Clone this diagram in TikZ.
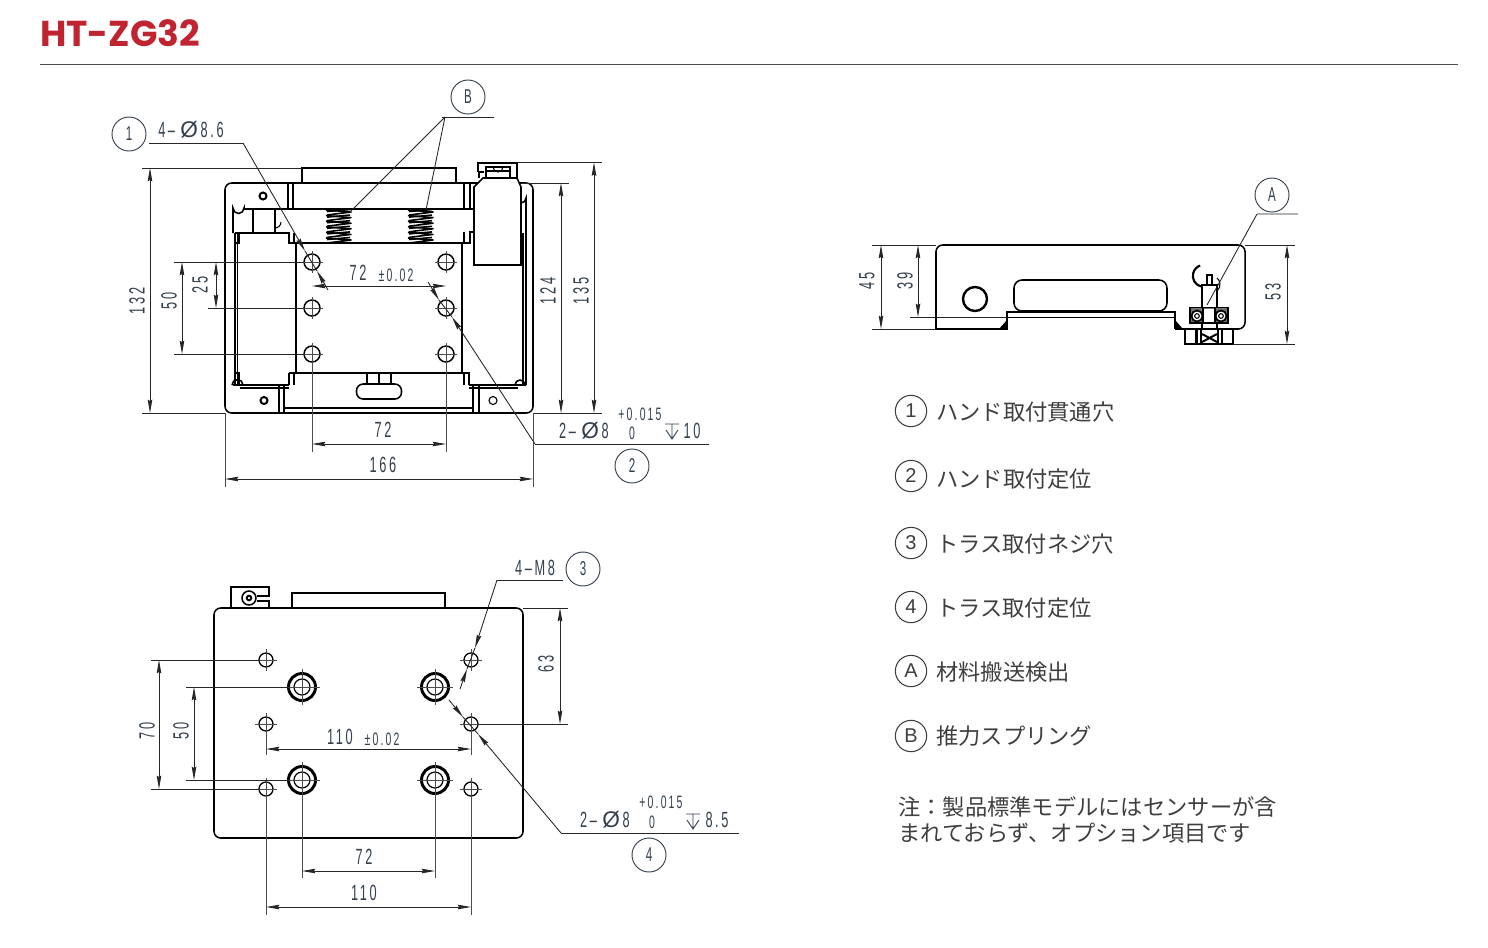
\documentclass[tikz,border=0pt]{standalone}
\usepackage{fontspec}
\usetikzlibrary{arrows.meta}
\setmainfont{Liberation Sans}
\newfontfamily\dimfont[FakeStretch=0.58,LetterSpace=12]{Liberation Sans}
\newfontfamily\jpfont{Noto Sans CJK JP}
\newfontfamily\titlefont{Poppins Bold}
\definecolor{dimcol}{HTML}{34404C}
\definecolor{jpcol}{HTML}{3F3F3F}
\definecolor{titlered}{HTML}{BF2430}
\newcounter{dn}
\tikzset{
  obj/.style={black,line width=1.15pt},
  objthin/.style={black,line width=0.8pt},
  thin line/.style={black!85,line width=0.65pt},
  centre/.style={black!70,line width=0.55pt},
  bigtip/.tip={Stealth[length=10pt,width=3.4pt,inset=1pt]},
  dimline/.style={black!85,line width=0.65pt,{bigtip}-{bigtip}},
  leader/.style={black!85,line width=0.65pt},
  tipend/.style={black!85,line width=0.65pt,-{bigtip}},
  dimtext/.style={dimcol,inner sep=0pt,font=\dimfont\fontsize{16.5pt}{16.5pt}\selectfont},
  dimsmall/.style={dimcol,inner sep=0pt,font=\dimfont\fontsize{13.5pt}{13.5pt}\selectfont},
  balloon/.style={circle,draw=black,line width=0.7pt,minimum size=25.5pt,inner sep=0pt,dimcol,font=\dimfont\fontsize{15pt}{15pt}\selectfont},
  keyball/.style={circle,draw=black!85,line width=0.8pt,minimum size=23.5pt,inner sep=0pt,jpcol,font=\fontsize{15pt}{15pt}\selectfont},
  jptext/.style={anchor=west,inner sep=0pt,jpcol,font=\jpfont\fontsize{16.7pt}{16.7pt}\selectfont},
}
\newcommand{\phig}{\hspace{4pt}{\normalfont\fontsize{17pt}{17pt}\selectfont Ø}\hspace{2pt}}
\newcommand{\dt}[3][0]{\stepcounter{dn}\node[dimtext,rotate=#1] (d\thedn) at (#2) {#3};}
\newcommand{\ds}[2]{\stepcounter{dn}\node[dimsmall] (d\thedn) at (#1) {#2};}
\newcommand{\bighole}[2]{%
  \draw[line width=1.1pt,black,fill=white] (#1,#2) circle[radius=8];
  \draw[centre] (#1-11,#2)--(#1+11,#2) (#1,#2-11)--(#1,#2+11);}
\newcommand{\smallhole}[2]{%
  \draw[line width=1pt,black,fill=white] (#1,#2) circle[radius=7];
  \draw[centre] (#1-11,#2)--(#1+11,#2) (#1,#2-11)--(#1,#2+11);}
\newcommand{\cbore}[2]{%
  \draw[line width=2.2pt,black,fill=white] (#1,#2) circle[radius=13.5];
  \draw[line width=0.9pt,black] (#1,#2) circle[radius=8];
  \draw[centre] (#1-18,#2)--(#1+18,#2) (#1,#2-18)--(#1,#2+18);}
\newcommand{\springat}[1]{%
  \foreach \k in {0,...,5}{
    \draw[black,line width=1.2pt,line join=round]
      (#1,210+\k*5.6)--(#1+25,212+\k*5.6)--(#1+1,215+\k*5.6);
    \draw[black,line width=1.2pt,line join=round]
      (#1+1,211.5+\k*5.6)--(#1+24,209.5+\k*5.6);
  }}
\newcommand{\depth}[2]{%
  \draw[dimcol,line width=0.7pt] (#1-7,#2-7)--(#1+7,#2-7) (#1-6,#2-1)--(#1,#2+8)--(#1+6,#2-1) (#1,#2-7)--(#1,#2+8);}
\begin{document}
\begin{tikzpicture}[x=0.75pt,y=-0.75pt]
\useasboundingbox (0,0) rectangle (1488,947);
\fill[white] (0,0) rectangle (1488,947);
% title
\node[anchor=west,inner sep=0pt,titlered,font=\titlefont\fontsize{27pt}{27pt}\selectfont] (title) at (40,33) {HT-ZG32};
\draw[black!70,line width=0.7pt] (40,64)--(1458,64);

%%%%%% TOP VIEW
\draw[obj,rounded corners=5pt] (225,413)--(225,183)--(533,183)--(533,413)--cycle;
\draw[obj] (302,183)--(302,168)--(456,168)--(456,183);
\draw[obj] (288,183)--(288,209) (293,183)--(293,209) (464,183)--(464,209) (470,183)--(470,209);
% arch and upper crossbar
\draw[obj] (233,233)--(233,208) arc[start angle=180,end angle=0,radius=5.5] -- (244,209)--(474,209);
\draw[obj] (253,209)--(253,233) (275,209)--(275,233);
\draw[objthin] (275,228) arc[start angle=90,end angle=0,radius=6];
\draw[obj] (235,233)--(289,233)--(289,243)--(470,243)--(470,232)--(474,232);
\draw[obj] (294,233)--(294,243) (464,232)--(464,243);
\draw[obj] (296,243)--(296,373) (462,243)--(462,373);
\draw[line width=1.9pt,black] (235,233)--(235,385);
\draw[objthin] (237.5,233)--(237.5,385);
\draw[objthin] (235,243)--(239,243)--(239,233);
\draw[objthin] (235,373)--(239,373)--(239,385);
\draw[obj] (289,373)--(470,373) (289,373)--(289,385) (294,373)--(294,385) (464,373)--(464,385) (469,373)--(469,385);
\draw[obj] (233,385)--(289,385) (469,385)--(526,385);
\draw[objthin] (240,388)--(289,388) (469,388)--(518,388);
\draw[obj] (232,385) arc[start angle=180,end angle=360,radius=5.5];
\draw[obj] (515,385) arc[start angle=180,end angle=360,radius=5];
\draw[obj] (279,385)--(279,413) (284,385)--(284,413) (473,385)--(473,413) (479,385)--(479,413);
\draw[objthin] (284,408)--(473,408);
\draw[obj] (367,373)--(367,384) (379,373)--(379,384) (391,373)--(391,384);
\draw[obj,rounded corners=5pt,fill=white] (356.5,384)rectangle(401.5,399);
\draw[line width=1.5pt,black] (263,196) circle[radius=3.5];
\draw[line width=1.5pt,black] (264,400.5) circle[radius=3.5];
\draw[objthin] (493,400.5) circle[radius=4];
% right hand side
\draw[obj] (521,203) arc[start angle=90,end angle=0,radius=5] -- (526,385);
\draw[line width=1.5pt,black] (522.5,233)--(522.5,385);
\draw[obj,fill=white] (474,265)--(474,187)--(483,178)--(517,178)--(521,187)--(521,265)--cycle;
\draw[obj] (478,172)--(478,163)--(517,163)--(517,178);
\draw[objthin] (478,172)--(484,172) (479,178)--(479,172);
\draw[obj] (486,178)--(486,167)--(510,167)--(510,178);
\draw[objthin] (486,171)--(510,171);
\draw[objthin] (493,167) arc[start angle=180,end angle=0,radius=5];
\springat{326}
\springat{408}
% top-view holes
\foreach \yy in {262,308,354}{\bighole{312}{\yy}\bighole{446}{\yy}}
% dimensions
\draw[thin line] (142,168)--(302,168) (142,413)--(225,413) (533,413)--(602,413)
  (517,162.5)--(602,162.5) (521,183)--(569,183)
  (174,262)--(304,262) (208,308)--(304,308) (174,354)--(304,354);
\draw[dimline] (150,168)--(150,413);
\draw[dimline] (182,262)--(182,354);
\draw[dimline] (216,262)--(216,308);
\draw[dimline] (561,183)--(561,413);
\draw[dimline] (594,162.5)--(594,413);
\draw[centre] (312,354)--(312,452) (446,354)--(446,452) (225,413)--(225,487) (533,413)--(533,487);
\draw[dimline] (312,286)--(446,286);
\draw[dimline] (312,444)--(446,444);
\draw[dimline] (225,479)--(533,479);
\dt[90]{137,301}{132}
\dt[90]{169,301}{50}
\dt[90]{200,285}{25}
\dt[90]{548,291}{124}
\dt[90]{581,291}{135}
\dt{358,273}{72}
\ds{396,275}{±0.02}
\dt{383,430}{72}
\dt{383,465}{166}
% leaders
\node[balloon] (b1) at (129,134) {1};
\node[balloon] (bB) at (468,97) {B};
\node[balloon] (b2) at (632,466) {2};
\dt{191,130}{4–\phig 8.6}
\draw[leader] (149,143)--(243,143);
\draw[tipend] (243,143)--(305,251);
\draw[leader] (305,251)--(317,271);
\draw[tipend] (328,290)--(317,271);
\draw[leader] (442,117)--(494,117);
\draw[leader] (445,117)--(350,212) (445,117)--(426,210);
\draw[leader] (709,444)--(535,444);
\draw[tipend] (535,444)--(452,317);
\draw[leader] (452,317)--(439,300);
\draw[tipend] (428,282)--(439,300);
\dt{584,431}{2–\phig 8}
\ds{640,414}{+0.015}
\ds{632,433}{0}
\depth{672}{431}
\dt{692,431}{10}

%%%%%% BOTTOM VIEW
\draw[obj,rounded corners=5pt] (214,838)--(214,608)--(523,608)--(523,838)--cycle;
\draw[obj] (292,608)--(292,593)--(445,593)--(445,608);
\draw[obj] (231,608)--(231,587)--(269,587)--(269,596)--(257,596) (257,601)--(269,601)--(269,608);
\draw[obj] (249,598) circle[radius=7];
\draw[line width=1.4pt,black] (249,598) circle[radius=2.3];
\foreach \xx in {266,471}{\foreach \yy in {660,724,789}{\smallhole{\xx}{\yy}}}
\foreach \xx in {302,435}{\foreach \yy in {687,780}{\cbore{\xx}{\yy}}}
\draw[thin line] (151,660)--(259,660) (151,789)--(259,789) (186,687)--(289,687) (186,780)--(289,780)
  (523,608)--(568,608) (478,724)--(568,724);
\draw[dimline] (159,660)--(159,789);
\draw[dimline] (194,687)--(194,780);
\draw[dimline] (560,608)--(560,724);
\draw[centre] (266,724)--(266,755) (471,724)--(471,755) (266,789)--(266,915) (471,789)--(471,915) (302,780)--(302,878) (435,780)--(435,878);
\draw[dimline] (266,749)--(471,749);
\draw[dimline] (302,871)--(435,871);
\draw[dimline] (266,907)--(471,907);
\dt[90]{147,731}{70}
\dt[90]{181,731}{50}
\dt[90]{546,664}{63}
\dt{340,737}{110}
\ds{382,739}{±0.02}
\dt{364,857}{72}
\dt{364,893}{110}
\node[balloon] (b3) at (583,569) {3};
\node[balloon] (b4) at (649,855) {4};
\dt{535,568}{4–M8}
\draw[leader] (497,580)--(563,580);
\draw[tipend] (497,580)--(475,648);
\draw[leader] (475,648)--(467,669);
\draw[tipend] (460,689)--(467,669);
\draw[tipend] (449,700)--(463,717);
\draw[leader] (463,717)--(478,734);
\draw[leader] (739,833)--(561,833);
\draw[tipend] (561,833)--(478,734);
\dt{605,820}{2–\phig 8}
\ds{661,802}{+0.015}
\ds{652,822}{0}
\depth{693}{821}
\dt{717,820}{8.5}

%%%%%% SIDE VIEW
\draw[obj,rounded corners=5pt] (936,329)--(936,245)--(1245,245)--(1245,329)--(1175,329);
\draw[obj] (936,329)--(1007,329)--(1007,312)--(1175,312)--(1175,329);
\draw[objthin] (1007,317.5)--(1175,317.5);
\fill[black] (1007,320)--(1007,329)--(999,329)--cycle;
\fill[black] (1175,320)--(1175,329)--(1183,329)--cycle;
\draw[line width=1.8pt,black] (975,299) circle[radius=12];
\draw[obj,rounded corners=6pt] (1014,280) rectangle (1167,311);
% sensor
\draw[obj] (1207,285)--(1207,275)--(1212,275)--(1212,285);
\draw[obj] (1202,308)--(1202,285)--(1217,285)--(1217,308);
\draw[line width=1.6pt,black] (1201,286.5) arc[start angle=105,end angle=250,radius=11];
\draw[objthin] (1217,291) arc[start angle=50,end angle=-50,radius=8.5];
\draw[obj,fill=black!55] (1190,307.5) rectangle (1228,323);
\fill[white] (1203,309) rectangle (1215,322);
\draw[obj] (1203,308)--(1203,323) (1215,308)--(1215,323);
\foreach \xx in {1197,1221}{
  \draw[line width=1.3pt,black,fill=white] (\xx,316) circle[radius=5.5];
  \draw[objthin] (\xx,316) circle[radius=2.3];
}
\draw[obj] (1202,323)--(1202,329) (1217,323)--(1217,329);
\draw[obj] (1185,329) rectangle (1233,344);
\draw[line width=1.8pt,black] (1196.5,329)--(1196.5,344) (1222,329)--(1222,344);
\draw[line width=2pt,black] (1201,329)--(1201,344) (1218,329)--(1218,344);
\draw[line width=1.5pt,black] (1202,334)--(1217,342) (1217,334)--(1202,342);
\draw[thin line] (872,245)--(936,245) (872,329)--(936,329) (910,317)--(1007,317) (1245,245)--(1295,245) (1233,344)--(1295,344);
\draw[dimline] (881,245)--(881,329);
\draw[dimline] (918,245)--(918,317);
\draw[dimline] (1287,245)--(1287,344);
\dt[90]{867,281}{45}
\dt[90]{905,281}{39}
\dt[90]{1273,292}{53}
\node[balloon] (bA) at (1272,195) {A};
\draw[leader] (1257,214)--(1298,214) (1257,214)--(1207,305);

%%%%%% KEY
\node[keyball] (k1) at (911,411) {1};
\node[keyball] (k2) at (911,476) {2};
\node[keyball] (k3) at (911,543) {3};
\node[keyball] (k4) at (911,607) {4};
\node[keyball] (kA) at (911,671) {A};
\node[keyball] (kB) at (911,736) {B};
\node[jptext] (t1) at (936,412) {ハンド取付貫通穴};
\node[jptext] (t2) at (936,479) {ハンド取付定位};
\node[jptext] (t3) at (936,544) {トラス取付ネジ穴};
\node[jptext] (t4) at (936,608) {トラス取付定位};
\node[jptext] (tA) at (936,672) {材料搬送検出};
\node[jptext] (tB) at (936,736) {推力スプリング};
\node[jptext] (n1) at (898,807) {注：製品標準モデルにはセンサーが含};
\node[jptext] (n2) at (898,833) {まれておらず、オプション項目です};
\end{tikzpicture}
\end{document}
